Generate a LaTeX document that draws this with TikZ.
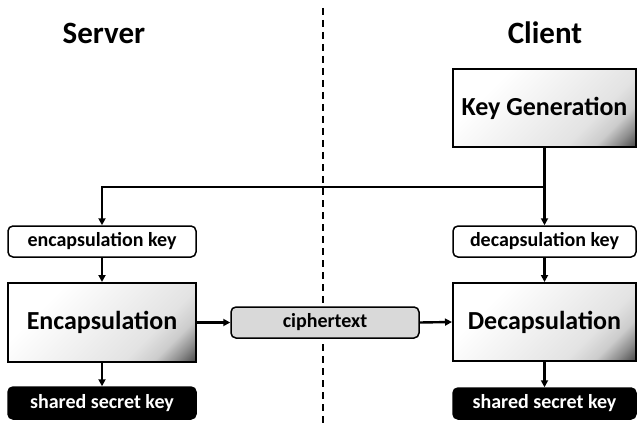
\documentclass[tikz,border=0pt]{standalone}
\usepackage{fontspec}
\setmainfont{Carlito}
\usetikzlibrary{arrows.meta,calc}
\pgfdeclarehorizontalshading{boxshade}{100bp}{color(0bp)=(white); color(30bp)=(white); color(50bp)=(black!6); color(66bp)=(black!11); color(74bp)=(black!20); color(80bp)=(black!45); color(85bp)=(black!70); color(100bp)=(black!75)}
\begin{document}
\begin{tikzpicture}[x=1pt,y=-1pt,
  bigbox/.style={draw=black, line width=2pt, shading=boxshade, shading angle=-45, font=\fontsize{26}{30}\selectfont\bfseries, inner sep=0pt},
  keybox/.style={draw=black, line width=1.5pt, rounded corners=5pt, fill=white, font=\fontsize{20}{24}\selectfont\bfseries, inner sep=0pt},
  ctbox/.style={keybox, fill=black!15},
  secretbox/.style={draw=black, line width=1.5pt, rounded corners=5pt, fill=black, text=white, font=\fontsize{20}{24}\selectfont\bfseries, inner sep=0pt},
  title/.style={font=\fontsize{31}{36}\selectfont\bfseries},
  conn/.style={line width=2.4pt, -{Triangle[length=7pt,width=7pt]}},
  plain/.style={line width=2.4pt}
]
\useasboundingbox (0,0) rectangle (637,425);
% titles
\node[title] (server) at (104,33) {Server};
\node[title] (client) at (545,33) {Client};
% separator
\coordinate (septop) at (323,8);
\coordinate (sepbot) at (323,425);
\draw[line width=1.5pt, dash pattern=on 7pt off 5pt] (septop) -- (sepbot);
% boxes
\node[bigbox, minimum width=183pt, minimum height=78pt] (keygen) at (544.5,108) {Key Generation};
\node[keybox, minimum width=188pt, minimum height=31pt] (ek) at (102,241.5) {encapsulation key};
\node[keybox, minimum width=183pt, minimum height=31pt] (dk) at (544.5,241.5) {decapsulation key};
\node[bigbox, minimum width=188pt, minimum height=79pt] (enc) at (102,322.5) {Encapsulation};
\node[bigbox, minimum width=183pt, minimum height=78pt] (dec) at (544.5,322) {Decapsulation};
\node[ctbox, minimum width=188pt, minimum height=31pt] (ct) at (325,322.5) {ciphertext};
\node[secretbox, minimum width=188pt, minimum height=32pt] (sk1) at (102,403) {shared secret key};
\node[secretbox, minimum width=183pt, minimum height=31pt] (sk2) at (544.5,403.5) {shared secret key};
% connectors
\coordinate (split) at (keygen.south |- 0,187);
\coordinate (corner) at (ek.north |- 0,187);
\draw[plain] (keygen.south) -- (split);
\draw[conn] (split) -- (dk.north);
\draw[conn] (split) -- (corner) -- (ek.north);
\draw[conn] (ek.south) -- (enc.north);
\draw[conn] (enc.south) -- (sk1.north);
\draw[conn] (dk.south) -- (dec.north);
\draw[conn] (dec.south) -- (sk2.north);
\draw[conn] (enc.east) -- (ct.west);
\draw[conn] (ct.east) -- (dec.west);
\end{tikzpicture}
\end{document}
